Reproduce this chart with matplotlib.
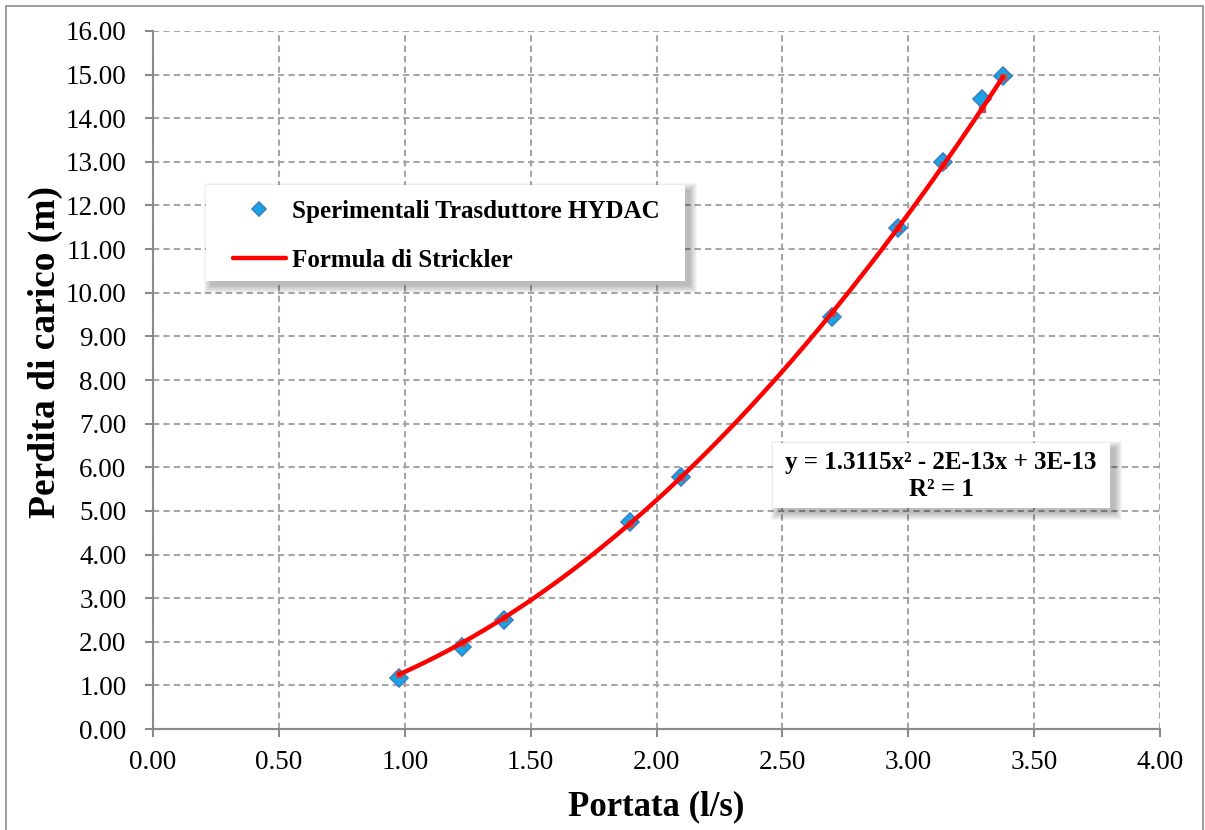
import numpy as np
import matplotlib
matplotlib.use("Agg")
from matplotlib import pyplot as plt
from matplotlib.patches import Rectangle

# portata (l/s) and perdita di carico (m)
portata = [0.977, 1.227, 1.394, 1.895, 2.097, 2.697, 2.959, 3.140, 3.293, 3.376]
perdita_sperimentale = [1.18, 1.88, 2.50, 4.75, 5.78, 9.44, 11.48, 13.00, 14.44, 14.96]
perdita_strickler = [1.25, 1.97, 2.55, 4.71, 5.77, 9.54, 11.48, 12.93, 14.22, 14.95]

x_ticks = [0.0, 0.5, 1.0, 1.5, 2.0, 2.5, 3.0, 3.5, 4.0]
y_ticks = list(range(0, 17))

equazione = "y = 1.3115x\u00b2 - 2E-13x + 3E-13\nR\u00b2 = 1"

plt.rcParams['font.family'] = ['Liberation Serif', 'DejaVu Serif']

W, H = 1205, 830
fig = plt.figure(figsize=(W / 100, H / 100), dpi=100)


def fig_box(x0, y0, x1, y1):
    """box given in pixel coords from top-left, returned in figure fractions"""
    return x0 / W, 1 - y1 / H, (x1 - x0) / W, (y1 - y0) / H


def box_with_shadow(x0, y0, x1, y1, zorder=5):
    # soft shadow: stacked translucent rectangles shrinking towards the core
    for grow in range(7, -1, -1):
        l, b, w, h = fig_box(x0 + 5 - grow, y0 + 5 - grow,
                             x1 + 5 + grow, y1 + 5 + grow)
        fig.patches.append(Rectangle((l, b), w, h, transform=fig.transFigure,
                                     facecolor='black', edgecolor='none',
                                     alpha=0.035, zorder=zorder))
    l, b, w, h = fig_box(x0, y0, x1, y1)
    fig.patches.append(Rectangle((l, b), w, h, transform=fig.transFigure,
                                 facecolor='white', edgecolor='none',
                                 zorder=zorder + 0.5))


# outer chart border
l, b, w, h = fig_box(6, 6, 1203, 840)
fig.patches.append(Rectangle((l, b), w, h, transform=fig.transFigure,
                             facecolor='none', edgecolor='#8c8c8c', lw=1.2,
                             zorder=0))

ax = fig.add_axes(fig_box(153, 31, 1160, 729))
ax.set_xlim(0, 4)
ax.set_ylim(0, 16)
ax.set_xticks(x_ticks)
ax.set_yticks(y_ticks)
ax.set_xticklabels([f"{v:.2f}" for v in x_ticks])
ax.set_yticklabels([f"{v:.2f}" for v in y_ticks])

for side in ['top', 'right']:
    ax.spines[side].set_visible(False)
for side in ['left', 'bottom']:
    ax.spines[side].set_color('#8a8a8a')
    ax.spines[side].set_linewidth(1.5)
ax.tick_params(axis='both', colors='#8a8a8a', length=6, width=1.5,
               labelcolor='black', labelsize=19.5)
ax.tick_params(axis='y', pad=13)
ax.tick_params(axis='x', pad=9)
ax.grid(True, color='#a6a6a6', linestyle=(0, (3, 2)), linewidth=1.5)
ax.set_axisbelow(True)

# experimental points
ax.plot(portata, perdita_sperimentale, 'D', markersize=9.5,
        markerfacecolor='#18a4e6', markeredgecolor='#3f7fc4',
        markeredgewidth=1.2, label='Sperimentali Trasduttore HYDAC',
        zorder=3, clip_on=False)

# Strickler curve: quadratic trend through the formula values
coef = np.polyfit(portata, perdita_strickler, 2)
xs = np.linspace(min(portata), max(portata), 200)
ax.plot(portata, perdita_strickler, 's', markersize=5, color='#c0504d',
        zorder=4)
ax.plot(xs, np.polyval(coef, xs), '-', color='#ff0000', linewidth=3.2,
        label='Formula di Strickler', zorder=5, solid_capstyle='round')

ax.set_xlabel('Portata (l/s)', fontsize=25, fontweight='bold', labelpad=11)
fig.text(45 / W, 1 - 352 / H, 'Perdita di carico (m)', rotation=90,
         fontsize=27, fontweight='bold', ha='center', va='center')

# legend box
box_with_shadow(206, 185, 685, 281)
handles, labels = ax.get_legend_handles_labels()
leg = fig.legend(handles, labels, loc='upper left',
                 bbox_to_anchor=(233 / W, 1 - 200 / H), frameon=False,
                 prop={'weight': 'bold', 'size': 18},
                 borderpad=0, borderaxespad=0, handlelength=2.1,
                 handletextpad=0.25, labelspacing=1.05, markerscale=0.8)
leg.set_zorder(20)

# trend equation box
box_with_shadow(773, 443, 1110, 508)
fig.text(941 / W, 1 - 476 / H, equazione, ha='center', va='center',
         fontsize=18, fontweight='bold', linespacing=1.25, zorder=20)

fig.savefig('out.png', dpi=100)
